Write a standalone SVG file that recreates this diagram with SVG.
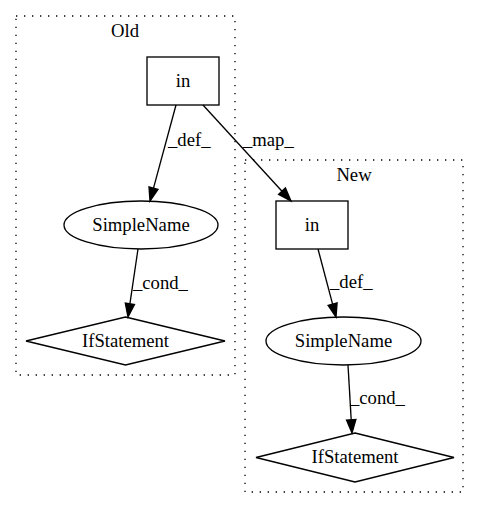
<svg xmlns="http://www.w3.org/2000/svg" width="480" height="508" viewBox="0 0 480 508">
<style>
text{font-family:"Liberation Serif","Times New Roman",serif;font-size:18.67px;fill:#000}
.c{text-anchor:middle}
.cl{fill:none;stroke:#000;stroke-width:1.33;stroke-dasharray:1.33,6.67}
.n{fill:none;stroke:#000;stroke-width:1.33}
.e{fill:none;stroke:#000;stroke-width:1.33}
.a{fill:#000;stroke:#000;stroke-width:1.33}
</style>
<rect width="480" height="508" fill="#fff"/>
<g id="cluster_old">
<rect class="cl" x="16" y="16" width="219" height="359"/>
<text class="c" x="125" y="37">Old</text>
</g>
<g id="cluster_new">
<rect class="cl" x="245" y="160" width="218" height="332"/>
<text class="c" x="354" y="181">New</text>
</g>
<g id="old_in">
<rect class="n" x="147" y="57" width="72" height="48"/>
<text class="c" x="183" y="87">in</text>
</g>
<g id="old_simplename">
<ellipse class="n" cx="141" cy="225" rx="77" ry="24"/>
<text class="c" x="141" y="231">SimpleName</text>
</g>
<g id="old_ifstatement">
<polygon class="n" points="125.5,317 225,341 125.5,365 26,341"/>
<text class="c" x="125.5" y="347">IfStatement</text>
</g>
<g id="new_in">
<rect class="n" x="276" y="201" width="72" height="48"/>
<text class="c" x="312" y="231">in</text>
</g>
<g id="new_simplename">
<ellipse class="n" cx="343.5" cy="341" rx="77.5" ry="24"/>
<text class="c" x="343.5" y="347">SimpleName</text>
</g>
<g id="new_ifstatement">
<polygon class="n" points="355,433 454,457.5 355,482 256,457.5"/>
<text class="c" x="355" y="463">IfStatement</text>
</g>
<g id="edges">
<path class="e" d="M176,105 L153.5,188.2"/>
<polygon class="a" points="158,189.4 150,201 149,187"/>
<text x="168" y="146">_def_</text>
<path class="e" d="M203,105 L282,191.2"/>
<polygon class="a" points="278.6,194.4 291,201 285.4,188"/>
<text x="243" y="146">_map_</text>
<path class="e" d="M138,249 L129.9,303.8"/>
<polygon class="a" points="134.5,304.5 128,317 125.3,303.1"/>
<text x="133" y="289">_cond_</text>
<path class="e" d="M318,249 L332.6,304.1"/>
<polygon class="a" points="328.1,305.3 336,317 337.1,302.9"/>
<text x="330" y="288">_def_</text>
<path class="e" d="M348,365 L351.2,419.7"/>
<polygon class="a" points="346.5,420 352,433 355.9,419.4"/>
<text x="350" y="404">_cond_</text>
</g>
</svg>
